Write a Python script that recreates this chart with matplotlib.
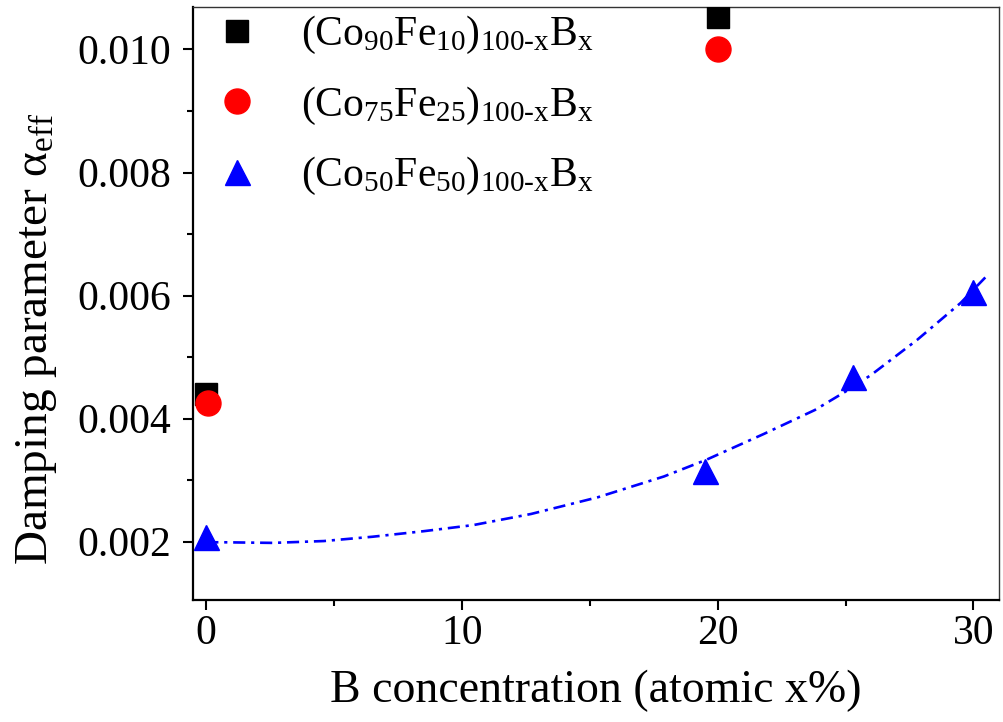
import matplotlib
matplotlib.use("Agg")
import matplotlib.pyplot as plt
from matplotlib.ticker import MultipleLocator, FormatStrFormatter

plt.rcParams['font.family'] = ['Liberation Serif', 'DejaVu Serif']
plt.rcParams['mathtext.fontset'] = 'custom'
plt.rcParams['mathtext.rm'] = 'Liberation Serif'
plt.rcParams['mathtext.it'] = 'Liberation Serif:italic'
plt.rcParams['mathtext.bf'] = 'Liberation Serif:bold'

# ---- data ----
x_co90 = [0.0, 20.0]
y_co90 = [0.00440, 0.01053]

x_co75 = [0.05, 20.0]
y_co75 = [0.00425, 0.01000]

x_co50 = [0.0, 19.5, 25.3, 30.0]
y_co50 = [0.00207, 0.00315, 0.00468, 0.00606]

fit_x = [0.0, 0.65, 2.6, 4.6, 6.5, 8.5, 10.45, 12.7, 15.3, 17.9, 19.55,
         21.8, 23.8, 25.0, 26.0, 27.8, 29.5, 30.5]
fit_y = [0.00199, 0.00199, 0.00198, 0.00201, 0.00208, 0.00217, 0.00227,
         0.00245, 0.00272, 0.00306, 0.00333, 0.00375, 0.00414, 0.00444,
         0.00471, 0.00528, 0.00588, 0.00631]

labels = [r'(Co$_{90}$Fe$_{10}$)$_{\mathrm{100\text{-}x}}$B$_{\mathrm{x}}$',
          r'(Co$_{75}$Fe$_{25}$)$_{\mathrm{100\text{-}x}}$B$_{\mathrm{x}}$',
          r'(Co$_{50}$Fe$_{50}$)$_{\mathrm{100\text{-}x}}$B$_{\mathrm{x}}$']

xlabel = 'B concentration (atomic x%)'
ylabel = r'Damping parameter α$_{\mathrm{eff}}$'

# ---- figure ----
fig = plt.figure(figsize=(10.04, 7.22), dpi=100)
ax = fig.add_axes([0.1927, 0.169, 0.8023, 0.8209])

ax.plot(fit_x, fit_y, color='#0000ff', lw=1.9, dashes=(4.6, 2.2, 1.2, 2.2), zorder=2)
ax.plot(x_co90, y_co90, ls='none', marker='s', ms=15.5, color='black',
        mec='black', label=labels[0], zorder=3)
ax.plot(x_co75, y_co75, ls='none', marker='o', ms=18, color='#ff0000',
        mec='#ff0000', label=labels[1], zorder=4)
ax.plot(x_co50, y_co50, ls='none', marker='^', ms=18, color='#0000ff',
        mec='#0000ff', label=labels[2], zorder=4)

ax.set_xlim(-0.5, 31.0)
ax.set_ylim(0.001052, 0.010686)

ax.xaxis.set_major_locator(MultipleLocator(10))
ax.xaxis.set_minor_locator(MultipleLocator(5))
ax.yaxis.set_major_locator(MultipleLocator(0.002))
ax.yaxis.set_minor_locator(MultipleLocator(0.001))
ax.yaxis.set_major_formatter(FormatStrFormatter('%.3f'))

ax.tick_params(axis='both', which='both', direction='out', top=False, right=False)
ax.tick_params(axis='both', which='major', length=7.2, width=1.5, labelsize=30)
ax.tick_params(axis='both', which='minor', length=4.5, width=1.5)
ax.tick_params(axis='x', which='major', pad=3)
ax.tick_params(axis='y', which='major', pad=9)

for s in ['left', 'bottom']:
    ax.spines[s].set_linewidth(1.6)
for s in ['top', 'right']:
    ax.spines[s].set_linewidth(1.0)
    ax.spines[s].set_color('#333333')

leg = ax.legend(loc='upper left', bbox_to_anchor=(0.028, 0.988), frameon=False,
                fontsize=30, borderpad=0, borderaxespad=0, handlelength=1.0,
                handletextpad=1.05, labelspacing=0.68, numpoints=1)

fig.text(596 / 1004, 1 - 691 / 722, xlabel, fontsize=33, ha='center', va='center')
fig.text(37 / 1004, 1 - 339 / 722, ylabel, fontsize=34, ha='center', va='center',
         rotation=90)

fig.savefig('out.png', dpi=100)
